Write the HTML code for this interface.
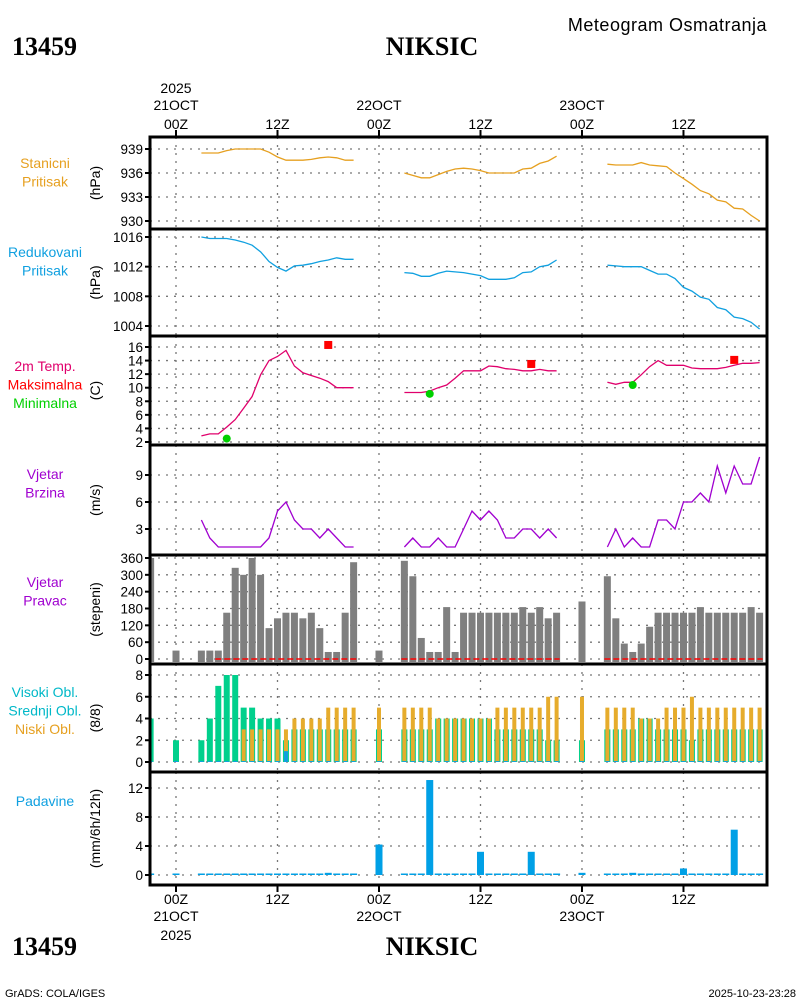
<!DOCTYPE html>
<html><head><meta charset="utf-8"><style>
html,body{margin:0;padding:0;background:#fff;}
svg{display:block;font-family:"Liberation Sans",sans-serif;}
</style></head><body>
<svg id="c" width="800" height="1000" viewBox="0 0 800 1000" xmlns="http://www.w3.org/2000/svg">
<defs><clipPath id="plotclip"><rect x="150" y="137" width="617" height="748"/></clipPath></defs>
<rect width="800" height="1000" fill="#fff"/>
<g id="texts">
<text x="12" y="55" font-size="26" font-weight="bold" font-family="Liberation Serif, serif">13459</text>
<text x="432" y="55" font-size="26" font-weight="bold" text-anchor="middle" font-family="Liberation Serif, serif">NIKSIC</text>
<text x="767" y="31" font-size="18" text-anchor="end" letter-spacing="0.5">Meteogram Osmatranja</text>
<text x="12" y="955" font-size="26" font-weight="bold" font-family="Liberation Serif, serif">13459</text>
<text x="432" y="955" font-size="26" font-weight="bold" text-anchor="middle" font-family="Liberation Serif, serif">NIKSIC</text>
<text x="5" y="997" font-size="11">GrADS: COLA/IGES</text>
<text x="796" y="997" font-size="11" text-anchor="end">2025-10-23-23:28</text>
</g>
<g id="grid"></g>
<g id="marks" clip-path="url(#plotclip)"></g>
<g id="frame"></g>
<g id="labels"></g>
</svg>
<script>
const hours=[-3,0,3,4,5,6,7,8,9,10,11,12,13,14,15,16,17,18,19,20,21,24,27,28,29,30,31,32,33,34,35,36,37,38,39,40,41,42,43,44,45,48,51,52,53,54,55,56,57,58,59,60,61,62,63,64,65,66,67,68,69];
const stationP=[null,null,938.5,938.5,938.5,938.8,939,939,939,939,938.6,938.0,937.6,937.6,937.6,937.7,937.9,938,937.9,937.6,937.6,null,936,935.7,935.4,935.4,935.8,936.2,936.5,936.6,936.5,936.3,936.0,936,936,936,936.5,936.6,937.2,937.5,938.1,null,937.1,937.0,937.0,937.0,937.3,937.0,936.9,936.8,936.0,935.3,934.6,933.8,933.4,932.6,932.4,931.6,931.5,930.7,930];
const reducedP=[null,null,1016,1015.8,1015.8,1015.8,1015.6,1015.3,1014.9,1014.0,1012.7,1011.9,1011.4,1012.1,1012.2,1012.4,1012.7,1012.9,1013.2,1013.0,1013.0,null,1011.2,1011.1,1010.7,1010.7,1011.1,1011.4,1011.3,1011.2,1011.0,1010.8,1010.3,1010.3,1010.3,1010.5,1011.2,1011.3,1012,1012.2,1012.9,null,1012.2,1012.1,1012,1012,1012,1011.5,1011,1011,1010.4,1009.2,1008.7,1007.9,1007.6,1006.5,1006.2,1005.2,1005,1004.5,1003.6];
const temp=[null,null,2.9,3.2,3.2,4.2,5.3,7.0,8.7,11.9,14,14.6,15.5,13.2,12.2,11.8,11.4,10.9,10,10,10,null,9.3,9.3,9.3,9.5,10,10.4,11.4,12.5,12.5,12.5,13.2,13.1,12.8,12.7,12.5,12.5,12.7,12.5,12.5,null,10.8,10.5,10.8,10.8,11.9,13.1,14,13.3,13.3,13.3,12.9,12.8,12.8,12.8,13,13.3,13.6,13.6,13.7];
const maxHours=[18,42,66];
const maxTemp=[16.3,13.5,14.1];
const minHours=[6,30,54];
const minTemp=[2.5,9.1,10.4];
const windSpeed=[null,null,4,2,1,1,1,1,1,1,2,5,6,4,3,3,2,3,2,1,1,null,1,2,1,1,2,1,1,3,5,4,5,4,2,2,3,3,2,3,2,null,1,3,1,2,1,1,4,4,3,6,6,7,6,10,7,10,8,8,11];
const windDir=[360,30,30,30,30,165,325,300,360,300,110,145,165,165,145,165,110,25,25,165,345,30,350,295,75,25,25,185,25,165,165,165,165,165,165,165,185,165,185,145,165,205,295,145,55,25,55,115,165,165,165,165,165,185,165,165,165,165,165,185,165];
const highCloud=[4,2,2,4,7,8,8,5,5,4,4,4,2,3,3,3,3,3,3,3,3,3,3,3,3,3,4,4,4,4,4,4,4,3,3,3,3,3,3,2,2,2,3,3,3,3,4,4,3,3,3,3,2,3,3,3,3,3,3,3,3];
const midCloud=[0,0,0,0,0,0,0,0,0,0,0,0,1,0,0,0,0,0,0,0,0,0,0,0,0,0,0,0,0,0,0,0,0,0,0,0,0,0,0,0,0,0,0,0,0,0,0,0,0,0,0,0,0,0,0,0,0,0,0,0,0];
const lowCloud=[0,0,0,0,0,0,0,3,3,3,3,3,3,4,4,4,4,5,5,5,5,5,5,5,5,5,4,4,4,4,4,4,4,5,5,5,5,5,5,6,6,6,5,5,5,5,4,4,4,5,5,5,6,5,5,5,5,5,5,5,5];
const precip=[0,0.1,0,0,0,0,0,0,0,0,0,0,0,0,0,0,0,0.3,0,0,0,4.2,0,0,0,13.1,0,0,0,0,0,3.2,0,0,0,0,0,3.2,0,0,0,0.3,0,0,0,0.3,0,0,0,0,0,0.9,0,0,0,0,0,6.25,0,0,0];
const timeTicks=[0,12,24,36,48,60];
const timeLabels=["00Z","12Z","00Z","12Z","00Z","12Z"];
const dateLabels=["21OCT","","22OCT","","23OCT",""];

const NS="http://www.w3.org/2000/svg";
const X0=150,X1=767;
function x(h){return 176+h*8.458;}
function mk(tag,attrs,parent,txt){const e=document.createElementNS(NS,tag);for(const k in attrs)e.setAttribute(k,attrs[k]);if(txt!==undefined)e.textContent=txt;parent.appendChild(e);return e;}
function lin(v1,y1,v2,y2){return v=>y1+(v-v1)*(y2-y1)/(v2-v1);}
const panels=[
 {top:137,bot:229,y:lin(939,149,930,221),ticks:[930,933,936,939],title:"(hPa)",lab:[["Stanicni","#e6a020"],["Pritisak","#e6a020"]],ly:168},
 {top:229,bot:336,y:lin(1016,237,1004,326),ticks:[1004,1008,1012,1016],title:"(hPa)",lab:[["Redukovani","#10a0e0"],["Pritisak","#10a0e0"]],ly:257},
 {top:336,bot:445,y:lin(16,347,2,442),ticks:[2,4,6,8,10,12,14,16],title:"(C)",lab:[["2m Temp.","#e0006c"],["Maksimalna","#ff0000"],["Minimalna","#00d000"]],ly:371},
 {top:445,bot:555,y:lin(9,475,3,529),ticks:[3,6,9],title:"(m/s)",lab:[["Vjetar","#a000d0"],["Brzina","#a000d0"]],ly:479},
 {top:555,bot:664,y:lin(360,558,0,659),ticks:[0,60,120,180,240,300,360],title:"(stepeni)",lab:[["Vjetar","#a000d0"],["Pravac","#a000d0"]],ly:587},
 {top:664,bot:772,y:lin(8,675,0,762),ticks:[0,2,4,6,8],title:"(8/8)",lab:[["Visoki Obl.","#00b8c8"],["Srednji Obl.","#00b8c8"],["Niski Obl.","#e6a020"]],ly:697},
 {top:772,bot:885,y:lin(12,788,0,875),ticks:[0,4,8,12],title:"(mm/6h/12h)",lab:[["Padavine","#10a0e0"]],ly:806}
];
const grid=document.getElementById('grid'),marks=document.getElementById('marks'),frame=document.getElementById('frame'),labels=document.getElementById('labels');
panels.forEach((p,i)=>{
 p.ticks.forEach(t=>{const yy=p.y(t);
  const g=mk('line',{x1:X0,x2:X1,y1:yy,y2:yy,stroke:'#777','stroke-width':1.3,'stroke-dasharray':'2,6'},grid);
  
  
  const tk=mk('line',{x1:X0-5,x2:X0,y1:yy,y2:yy,stroke:'#000','stroke-width':2},frame);
  
  
  const tl=mk('text',{x:143,y:yy+5,'font-size':13.5,'text-anchor':'end'},labels,String(t));
  
  
 });
 timeTicks.forEach(h=>{const v=mk('line',{x1:x(h),x2:x(h),y1:p.top,y2:p.bot,stroke:'#777','stroke-width':1.3,'stroke-dasharray':'2,6'},grid);
  
  });
 const mid=(p.top+p.bot)/2;
 const yt=mk('text',{x:0,y:0,'font-size':14,'text-anchor':'middle',transform:`translate(100,${mid}) rotate(-90)`},labels,p.title);
 
 
 p.lab.forEach((l,j)=>{const t=mk('text',{x:45,y:p.ly+j*18.5,'font-size':14,'text-anchor':'middle',fill:l[1]},labels,l[0]);
  
  });
 if(i>0){const s=mk('line',{x1:X0,x2:X1,y1:p.top,y2:p.top,stroke:'#000','stroke-width':3},frame);
  
  }
});
const fr=mk('rect',{x:X0,y:137,width:X1-X0,height:885-137,fill:'none',stroke:'#000','stroke-width':3},frame);


timeTicks.forEach((h,i)=>{
 const a=mk('line',{x1:x(h),x2:x(h),y1:130,y2:137,stroke:'#000','stroke-width':2},frame);
 
 
 const b=mk('line',{x1:x(h),x2:x(h),y1:885,y2:892,stroke:'#000','stroke-width':2},frame);
 
 
 const t1=mk('text',{x:x(h),y:129,'font-size':14,'text-anchor':'middle'},labels,timeLabels[i]);
 
 
 const t2=mk('text',{x:x(h),y:904,'font-size':14,'text-anchor':'middle'},labels,timeLabels[i]);
 
 
 if(dateLabels[i]){
  const d1=mk('text',{x:x(h),y:110,'font-size':14,'text-anchor':'middle'},labels,dateLabels[i]);
  
  
  const d2=mk('text',{x:x(h),y:921,'font-size':14,'text-anchor':'middle'},labels,dateLabels[i]);
  
  
 }
});
const y1=mk('text',{x:x(0),y:93,'font-size':14,'text-anchor':'middle'},labels,"2025");


const y2=mk('text',{x:x(0),y:940,'font-size':14,'text-anchor':'middle'},labels,"2025");



function drawLine(vals,p,color,name){
 let d='',prevH=null;
 hours.forEach((h,i)=>{const v=vals[i];
  if(v===null||v===undefined){prevH=null;return;}
  const cmd=(prevH!==null&&h-prevH===1)?'L':'M';
  d+=cmd+x(h).toFixed(1)+','+p.y(v).toFixed(1)+' ';prevH=h;});
 const e=mk('path',{d:d,fill:'none',stroke:color,'stroke-width':1.3},marks);
 
 
}
drawLine(stationP,panels[0],'#e6a020','station-pressure-line');
drawLine(reducedP,panels[1],'#10a0e0','reduced-pressure-line');
drawLine(temp,panels[2],'#e0006c','temperature-line');
drawLine(windSpeed,panels[3],'#a000d0','wind-speed-line');
maxHours.forEach((h,i)=>{const m=mk('rect',{x:x(h)-4,y:panels[2].y(maxTemp[i])-4,width:8,height:8,fill:'#ff0000'},marks);
 
 });
minHours.forEach((h,i)=>{const m=mk('circle',{cx:x(h),cy:panels[2].y(minTemp[i]),r:4,fill:'#00d000'},marks);
 
 });
const P5=panels[4];
hours.forEach((h,i)=>{const top=P5.y(windDir[i]);const b=mk('rect',{x:x(h)-3.5,y:top,width:7,height:662-top,fill:'#7f7f7f'},marks);
 
 
});
[[5,21],[27,45],[51,69]].forEach(s=>{const l=mk('line',{x1:x(s[0])-3,x2:x(s[1])+3,y1:P5.y(0),y2:P5.y(0),stroke:'#ff0000','stroke-width':1.5,'stroke-dasharray':'6,3'},marks);
 
 });
const P6=panels[5];
hours.forEach((h,i)=>{
 const base=P6.y(0);
 if(highCloud[i]>0){const g=mk('rect',{x:x(h)-3,y:P6.y(highCloud[i]),width:6,height:base-P6.y(highCloud[i]),fill:'#00d08c'},marks);
  
  }
 if(lowCloud[i]>0){const o=mk('rect',{x:x(h)-2,y:P6.y(lowCloud[i]),width:4,height:base-P6.y(lowCloud[i]),fill:'#e6ac2c'},marks);
  
  }
 const mh=Math.max(base-P6.y(midCloud[i]),1);
 const bl=mk('rect',{x:x(h)-2,y:base-mh,width:4,height:mh,fill:'#10a0e0'},marks);
 
 
});
const P7=panels[6];
hours.forEach((h,i)=>{const base=P7.y(0);const hh=Math.max(base-P7.y(precip[i]),1.5);
 const r=mk('rect',{x:x(h)-3.5,y:base-hh,width:7,height:hh,fill:'#00a0e6'},marks);
 
 });
</script>
</body></html>
